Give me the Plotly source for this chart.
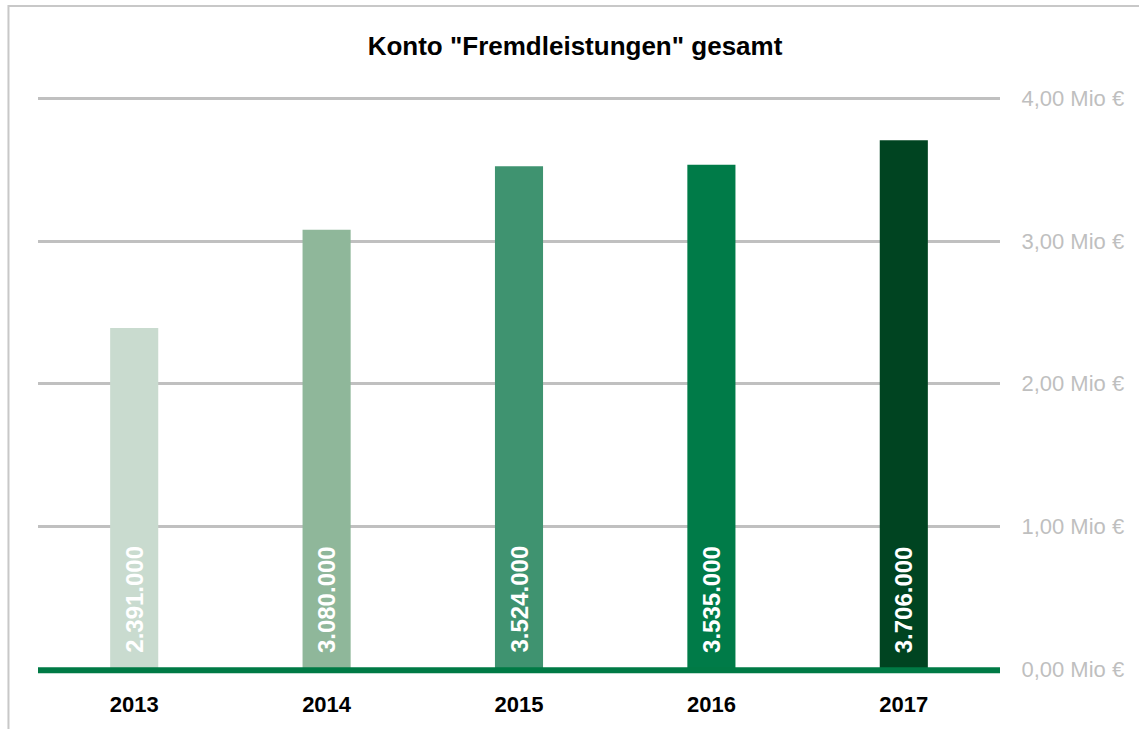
import plotly.graph_objects as go

years = ["2013", "2014", "2015", "2016", "2017"]
values = [2391000, 3080000, 3524000, 3535000, 3706000]
labels = ["2.391.000", "3.080.000", "3.524.000", "3.535.000", "3.706.000"]
colors = ["#C9DBCF", "#8FB79A", "#3F9370", "#007B48", "#004421"]
tick_vals = [0, 1000000, 2000000, 3000000, 4000000]
tick_text = ["0,00 Mio €", "1,00 Mio €", "2,00 Mio €", "3,00 Mio €", "4,00 Mio €"]

FONT = "Liberation Sans, Arial"

fig = go.Figure()
fig.add_trace(go.Bar(x=years, y=values, marker=dict(color=colors, line=dict(width=0)),
                     hoverinfo="skip"))

for i, lab in enumerate(labels):
    fig.add_annotation(x=i, y=0, text="<b>%s</b>" % lab, showarrow=False,
                       textangle=-90, yanchor="bottom", xanchor="center", yshift=14,
                       font=dict(family=FONT, size=24, color="white"))

# zero line (paper coords so it is not clipped by the plot area)
fig.add_shape(type="line", xref="paper", yref="paper", x0=0, x1=1, y0=-0.002, y1=-0.002,
              line=dict(color="#007A45", width=6), layer="above")
# outer border
fig.add_shape(type="rect", xref="paper", yref="paper", x0=-0.0307, x1=1.3,
              y0=-0.3, y1=1.159, line=dict(color="#C8C8C8", width=2), layer="below")

fig.update_layout(
    width=1139, height=729,
    margin=dict(l=38, r=139, t=97, b=60, autoexpand=False),
    paper_bgcolor="white", plot_bgcolor="white",
    showlegend=False,
    bargap=0.75,
    title=dict(text="<b>Konto \"Fremdleistungen\" gesamt</b>", x=575/1139, xanchor="center",
               y=1 - 46/729, yanchor="middle", yref="container",
               font=dict(family=FONT, size=26, color="black")),
    xaxis=dict(type="category", categoryorder="array", categoryarray=years,
               range=[-0.5, len(years) - 0.5],
               showgrid=False, showline=False, zeroline=False,
               ticks="outside", ticklen=16, tickcolor="rgba(0,0,0,0)",
               tickfont=dict(family=FONT, size=22, color="black"),
               tickprefix="<b>", ticksuffix="</b>"),
    yaxis=dict(side="right", range=[0, 4010000], tickvals=tick_vals, ticktext=tick_text,
               showgrid=True, gridcolor="#C0C0C0", gridwidth=3,
               zeroline=False, showline=False,
               ticks="outside", ticklen=16, tickcolor="rgba(0,0,0,0)",
               tickfont=dict(family=FONT, size=22, color="#BFBFBF")),
)

fig.write_html("out.html", config={"displayModeBar": False},
               post_script="document.body.style.margin='0';")
